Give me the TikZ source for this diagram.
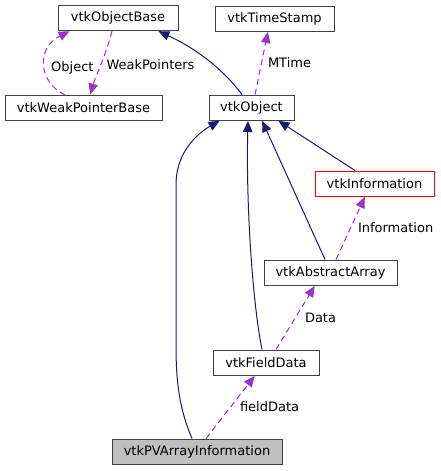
\documentclass[tikz,border=0pt]{standalone}
\usepackage{fontspec}
\setmainfont{DejaVu Sans}
\usepackage{tikz}
\usetikzlibrary{arrows.meta}

\definecolor{edgeblue}{RGB}{25,25,112}
\definecolor{edgepurple}{RGB}{154,50,205}
\definecolor{boxgray}{RGB}{191,191,191}

\begin{document}
\begin{tikzpicture}[x=1pt, y=-1pt,
    every node/.style={font=\fontsize{13}{15}\selectfont},
    cls/.style={draw=black!75, line width=1pt, minimum height=25pt, inner sep=0pt},
    inh/.style={draw=edgeblue, line width=1pt, -{Triangle[length=11pt,width=9.5pt]}, shorten >=0.5pt},
    use/.style={draw=edgepurple, line width=1pt, dash pattern=on 6pt off 4pt, -{Triangle[length=11pt,width=9.5pt]}, shorten >=0.5pt},
    lbl/.style={inner sep=1pt}]
    \useasboundingbox (0,0) rectangle (441,471);

    % draw nodes
    \node[cls, minimum width=120pt] (objbase) at (118,18) {vtkObjectBase};
    \node[cls, minimum width=119pt] (stamp) at (274.5,18.5) {vtkTimeStamp};
    \node[cls, minimum width=157pt] (weakptr) at (83.5,108) {vtkWeakPointerBase};
    \node[cls, minimum width=85pt] (obj) at (251.5,107.5) {vtkObject};
    \node[cls, draw=red, minimum width=119pt] (info) at (374.5,183.5) {vtkInformation};
    \node[cls, minimum width=133pt] (absarray) at (330.5,272.5) {vtkAbstractArray};
    \node[cls, minimum width=106pt] (fielddata) at (266,362.5) {vtkFieldData};
    \node[cls, fill=boxgray, minimum width=170pt] (pvarray) at (197,451.5) {vtkPVArrayInformation};

    % draw edges
    \draw[inh] ([xshift=-9.5pt]obj.north) .. controls (222,68) and (195,48) .. ([xshift=40pt]objbase.south);
    \draw[use] ([xshift=3.5pt]obj.north) -- ([xshift=-6.5pt]stamp.south)
        node[lbl, pos=0.5, anchor=west, xshift=5pt] {MTime};
    \draw[use] ([xshift=-18.5pt]weakptr.north) .. controls (38,82) and (36,48) .. ([xshift=-48pt]objbase.south)
        node[lbl, pos=0.45, anchor=west, xshift=5pt] {Object};
    \draw[use] ([xshift=-6pt]objbase.south) .. controls (106,55) and (96,75) .. ([xshift=6.5pt]weakptr.north)
        node[lbl, pos=0.5, anchor=west, xshift=4pt] {WeakPointers};
    \draw[inh] ([xshift=-19.5pt]info.north) -- ([xshift=26.5pt]obj.south);
    \draw[inh] ([xshift=-5.5pt]absarray.north) -- ([xshift=10.5pt]obj.south);
    \draw[use] ([xshift=5.5pt]absarray.north) -- ([xshift=-9.5pt]info.south)
        node[lbl, pos=0.5, anchor=west, xshift=6pt] {Information};
    \draw[inh] ([xshift=-4pt]fielddata.north) .. controls (252,300) and (246,200) .. ([xshift=-3.5pt]obj.south);
    \draw[use] ([xshift=10pt]fielddata.north) -- ([xshift=-15.5pt]absarray.south)
        node[lbl, pos=0.5, anchor=west, xshift=8pt] {Data};
    \draw[inh] ([xshift=-5pt]pvarray.north) .. controls (180,410) and (176,385) .. (176,345)
        -- (176,185) .. controls (176,150) and (200,132) .. ([xshift=-31.5pt]obj.south);
    \draw[use] ([xshift=9pt]pvarray.north) -- ([xshift=-11pt]fielddata.south)
        node[lbl, pos=0.5, anchor=west, xshift=8pt] {fieldData};
\end{tikzpicture}
\end{document}
